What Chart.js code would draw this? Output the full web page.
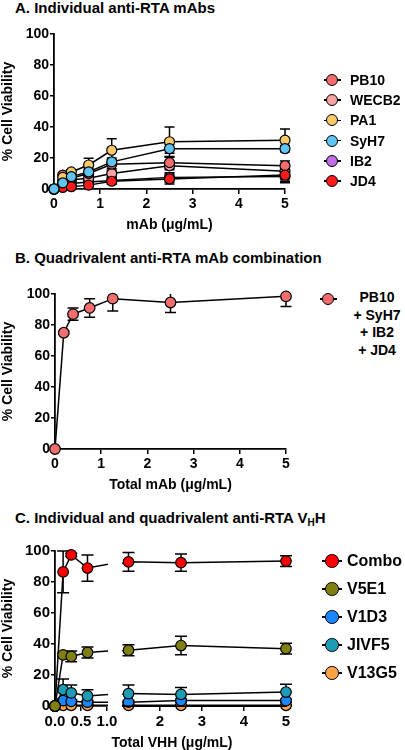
<!DOCTYPE html>
<html>
<head>
<meta charset="utf-8">
<script src="https://cdn.jsdelivr.net/npm/chart.js@4.4.1/dist/chart.umd.min.js"></script>
<style>
  body { margin: 0; width: 405px; height: 750px; overflow: hidden; background: #fff;
         font-family: Arial, "Liberation Sans", sans-serif; font-weight: bold; color: #000; position: relative; }
  .ptitle { position: absolute; left: 15px; font-size: 15px; line-height: 16px; white-space: nowrap; }
  .ptitle .sub { font-size: 10px; position: relative; top: 3px; }
  .plot { position: absolute; left: 0; }
  .row { position: absolute; white-space: nowrap; }
  .row .ln { position: absolute; height: 1.6px; background: #000; }
  .row .dot { position: absolute; border-radius: 50%; border: 1.3px solid #000; box-sizing: border-box; }
  .row .txt { position: absolute; }
  .xtitle { position: absolute; font-size: 14px; line-height: 16px; white-space: nowrap; transform: translateX(-50%); }
  .btxt { position: absolute; left: 340px; width: 74px; text-align: center; font-size: 14px; line-height: 17.7px; }
</style>
</head>
<body>
<div class="ptitle" style="top:0px">A. Individual anti-RTA mAbs</div>
<div class="plot" style="top:20px"><canvas id="chartA" width="300" height="214"></canvas></div>

<div class="ptitle" style="top:250px">B. Quadrivalent anti-RTA mAb combination</div>
<div class="plot" style="top:280px"><canvas id="chartB" width="300" height="214"></canvas></div>
<div class="btxt" style="top:289px">PB10<br>+ SyH7<br>+ IB2<br>+ JD4</div>

<div class="ptitle" style="top:510px">C. Individual and quadrivalent anti-RTA V<span class="sub">H</span>H</div>
<div class="plot" style="top:537px"><canvas id="chartC" width="300" height="213"></canvas></div>
<div class="xtitle" style="left:172px; top:734px">Total VHH (μg/mL)</div>

<div id="legendA"></div>
<div id="legendB"></div>
<div id="legendC"></div>

<script>
// ---- Panel A: individual mAbs ----
const mabDose = [0, 0.19, 0.375, 0.75, 1.25, 2.5, 5];
const mabNames = ['PB10', 'WECB2', 'PA1', 'SyH7', 'IB2', 'JD4'];
const mabColors = ['#f26d6d', '#f5a3a3', '#f9c96a', '#5ec5f2', '#c36ee6', '#ff1a1a'];
const pb10 = [0, 9, 7, 10, 16, 17, 15];
const wecb2 = [0, 5, 6, 7, 10, 15, 11.5];
const pa1 = [0, 7.5, 11, 15.5, 25, 30.5, 31.5];
const syh7 = [0, 4, 8, 11, 17.5, 26, 26];
const ib2 = [0, 2, 3.5, 4.5, 5.5, 7.5, 8];
const jd4 = [0, 1, 1.5, 2.5, 5, 6.5, 9];
const pb10Err = [0, 1, 1.5, 2, 3, 3.5, 3];
const wecb2Err = [0, 1, 1, 1.5, 2, 2.5, 2];
const pa1Err = [0, 1.5, 1.5, 4.3, 7.5, 9.5, 7.2];
const syh7Err = [0, 1, 1.5, 2, 2.5, 3, 2];
const ib2Err = [0, 1, 1, 1.5, 2, 3, 3];
const jd4Err = [0, 0.8, 1, 1, 2, 3.2, 5];
const mabValues = [pb10, wecb2, pa1, syh7, ib2, jd4];
const mabErrors = [pb10Err, wecb2Err, pa1Err, syh7Err, ib2Err, jd4Err];
const mabOrder = [3, 4, 1, 0, 5, 2];

// ---- Panel B: quadrivalent mAb combination ----
const totalMabDose = [0, 0.19, 0.39, 0.75, 1.25, 2.5, 5];
const quadMab = [0, 75, 87, 91, 97, 94.5, 98.5];
const quadMabErr = [0, 1, 4, 6, 8, 6.5, 6.5];
const quadColor = '#f26d6d';

// ---- Panel C: VHH ----
const vhhDose = [0, 0.156, 0.3125, 0.625, 1.25, 2.5, 5];
const vhhNames = ['Combo', 'V5E1', 'V1D3', 'JIVF5', 'V13G5'];
const vhhColors = ['#ff0000', '#7f7f12', '#1a86ff', '#1c9db5', '#ffa347'];
const combo = [0, 86.5, 97.5, 89, 93, 92.5, 93.5];
const v5e1 = [0, 33, 32, 34.5, 36, 39, 37];
const v1d3 = [0, 3.5, 3, 2.5, 2.5, 3.5, 3.5];
const jivf5 = [0, 10.5, 8.5, 6.5, 8, 7.5, 9];
const v13g5 = [0, 0.5, 0.5, 0.5, 0.5, 0.5, 0.5];
const comboErr = [0, 13.5, 1, 8.5, 6, 5.5, 3.5];
const v5e1Err = [0, 1, 3.5, 3.5, 3.5, 6, 3.5];
const v1d3Err = [0, 1, 1, 1, 1, 1, 1];
const jivf5Err = [0, 7, 5, 4, 5.5, 4.5, 5];
const v13g5Err = [0, 0.3, 0.3, 0.3, 0.3, 0.3, 0.3];
const vhhValues = [combo, v5e1, v1d3, jivf5, v13g5];
const vhhErrors = [comboErr, v5e1Err, v1d3Err, jivf5Err, v13g5Err];
const vhhOrder = [1, 0, 3, 2, 4];
const breakEnd = 1.0;      // first x segment ends here
const breakResume = 1.1;   // second x segment starts here

const yTicks = [0, 20, 40, 60, 80, 100];
const FONT = 'Arial, "Liberation Sans", sans-serif';

Chart.defaults.font.family = FONT;
Chart.defaults.font.weight = 'bold';
Chart.defaults.color = '#000';

// error bars drawn under the lines and symbols
const errorBarPlugin = {
  id: 'errorBars',
  beforeDatasetsDraw(chart, args, opts) {
    const ctx = chart.ctx;
    const top = chart.chartArea.top;
    const cap = opts.cap || 5;
    ctx.save();
    ctx.strokeStyle = '#000';
    ctx.lineWidth = 1.5;
    chart.data.datasets.forEach((ds, i) => {
      if (!ds.errorBars) return;
      const meta = chart.getDatasetMeta(i);
      ds.data.forEach((p, j) => {
        const e = ds.errorBars[j];
        if (!e) return;
        const px = meta.xScale.getPixelForValue(p.x);
        let hi = meta.yScale.getPixelForValue(p.y + e);
        const lo = meta.yScale.getPixelForValue(p.y - e);
        const showCap = hi >= top - 0.5;
        hi = Math.max(hi, top);
        ctx.beginPath();
        ctx.moveTo(px, hi); ctx.lineTo(px, lo);
        if (showCap) { ctx.moveTo(px - cap, hi); ctx.lineTo(px + cap, hi); }
        ctx.moveTo(px - cap, lo); ctx.lineTo(px + cap, lo);
        ctx.stroke();
      });
    });
    ctx.restore();
  }
};

// clips each half of a broken-axis series to its own x segment
const axisBreakPlugin = {
  id: 'axisBreak',
  beforeDatasetDraw(chart, args) {
    const ds = chart.data.datasets[args.index];
    const ctx = chart.ctx;
    ctx.save();
    ctx.beginPath();
    if (ds.part === 1) {
      ctx.rect(0, 0, chart.scales.x1.right + 1, chart.height);
    } else {
      const l = chart.scales.x2.getPixelForValue(breakResume);
      ctx.rect(l, 0, chart.width - l, chart.height);
    }
    ctx.clip();
  },
  afterDatasetDraw(chart) {
    chart.ctx.restore();
  },
  afterDraw(chart) {
    const ctx = chart.ctx;
    const x2 = chart.scales.x2;
    const y = Math.round(chart.chartArea.bottom) + 0.1;
    ctx.save();
    ctx.strokeStyle = '#000';
    ctx.lineWidth = 1.8;
    ctx.beginPath();
    ctx.moveTo(x2.getPixelForValue(breakResume), y);
    ctx.lineTo(x2.right + 0.9, y);
    ctx.stroke();
    ctx.restore();
  }
};

function series(xs, ys, errs, color, order, radius) {
  return {
    data: xs.map((x, i) => ({ x: x, y: ys[i] })),
    errorBars: errs,
    borderColor: '#000',
    borderWidth: 1.5,
    pointBackgroundColor: color,
    pointBorderColor: '#000',
    pointBorderWidth: 1.2,
    pointRadius: radius,
    pointHoverRadius: radius,
    order: order,
    tension: 0,
    clip: false
  };
}

function yAxis(tickSize, width) {
  return {
    type: 'linear',
    min: 0, max: 100,
    afterBuildTicks: s => { s.ticks = yTicks.map(v => ({ value: v })); },
    ticks: { color: '#000', font: { size: tickSize, weight: 'bold' }, padding: 1 },
    grid: { drawOnChartArea: false, color: '#000', lineWidth: 1.5, tickLength: 4 },
    border: { color: '#000', width: 1.8 },
    title: { display: true, text: '% Cell Viability', color: '#000', font: { size: 14, weight: 'bold' }, padding: 0 },
    afterFit: s => { s.width = width; }
  };
}

function xAxis(title, height) {
  return {
    type: 'linear',
    min: 0, max: 5,
    afterBuildTicks: s => { s.ticks = [0, 1, 2, 3, 4, 5].map(v => ({ value: v })); },
    ticks: { color: '#000', font: { size: 14, weight: 'bold' }, padding: 2, maxRotation: 0, minRotation: 0, autoSkip: false },
    grid: { drawOnChartArea: false, color: '#000', lineWidth: 1.5, tickLength: 5 },
    border: { color: '#000', width: 1.8 },
    title: { display: true, text: title, color: '#000', font: { size: 14, weight: 'bold' }, padding: 0 },
    afterFit: s => { s.height = height; }
  };
}

const baseOptions = {
  responsive: false,
  animation: false,
  events: [],
  plugins: { legend: { display: false }, tooltip: { enabled: false } }
};

// Panel A
new Chart(document.getElementById('chartA'), {
  type: 'line',
  data: {
    datasets: mabNames.map((n, i) =>
      Object.assign(series(mabDose, mabValues[i], mabErrors[i], mabColors[i], mabOrder[i], 5), { label: n }))
  },
  options: Object.assign({}, baseOptions, {
    layout: { padding: { left: 0, right: 15, top: 14, bottom: 0 } },
    scales: { x: xAxis('mAb (μg/mL)', 45), y: yAxis(14, 54) },
    plugins: Object.assign({}, baseOptions.plugins, { errorBars: { cap: 5 } })
  }),
  plugins: [errorBarPlugin]
});

// Panel B
new Chart(document.getElementById('chartB'), {
  type: 'line',
  data: {
    datasets: [Object.assign(series(totalMabDose, quadMab, quadMabErr, quadColor, 0, 5.3),
      { label: 'PB10 + SyH7 + IB2 + JD4' })]
  },
  options: Object.assign({}, baseOptions, {
    layout: { padding: { left: 0, right: 14, top: 14, bottom: 0 } },
    scales: { x: xAxis('Total mAb (μg/mL)', 45), y: yAxis(14, 55) },
    plugins: Object.assign({}, baseOptions.plugins, { errorBars: { cap: 5.5 } })
  }),
  plugins: [errorBarPlugin]
});

// Panel C: two stacked x scales give the broken axis
const cDatasets = [];
vhhNames.forEach((n, i) => {
  const first = series(vhhDose.slice(0, 5), vhhValues[i].slice(0, 5),
    vhhErrors[i].slice(0, 4).concat([0]), vhhColors[i], vhhOrder[i], [5.3, 5.3, 5.3, 5.3, 0]);
  first.xAxisID = 'x1'; first.part = 1; first.label = n;
  const second = series(vhhDose.slice(3), vhhValues[i].slice(3),
    [0].concat(vhhErrors[i].slice(4)), vhhColors[i], vhhOrder[i], [0, 5.3, 5.3, 5.3]);
  second.xAxisID = 'x2'; second.part = 2; second.label = n;
  cDatasets.push(first, second);
});

const x1 = xAxis('', 44);
x1.title = { display: false };
x1.max = breakEnd;
x1.stack = 'xb'; x1.stackWeight = 52;
x1.afterBuildTicks = s => { s.ticks = [0, 0.5, 1].map(v => ({ value: v })); };
x1.ticks = Object.assign({}, x1.ticks, { font: { size: 15, weight: 'bold' }, callback: v => v.toFixed(1) });

const x2 = xAxis('', 44);
x2.title = { display: false };
x2.min = 0.738;
x2.stack = 'xb'; x2.stackWeight = 179;
x2.afterBuildTicks = s => { s.ticks = [2, 3, 4, 5].map(v => ({ value: v })); };
x2.ticks = Object.assign({}, x2.ticks, { font: { size: 15, weight: 'bold' }, callback: v => String(v) });
x2.border = { display: false };

new Chart(document.getElementById('chartC'), {
  type: 'line',
  data: { datasets: cDatasets },
  options: Object.assign({}, baseOptions, {
    layout: { padding: { left: 0, right: 14, top: 14, bottom: 0 } },
    scales: { x1: x1, x2: x2, y: yAxis(15, 55) },
    plugins: Object.assign({}, baseOptions.plugins, { errorBars: { cap: 6 } })
  }),
  plugins: [errorBarPlugin, axisBreakPlugin]
});

// legends (line through a filled circle, as in the figure)
function legendRow(parent, cx, cy, lineW, dotD, textLeft, fontSize, color, text) {
  const row = document.createElement('div');
  row.className = 'row';
  row.style.left = '0px';
  row.style.top = (cy - 12) + 'px';
  row.style.height = '24px';
  row.style.width = '405px';
  const ln = document.createElement('span');
  ln.className = 'ln';
  ln.style.left = (cx - lineW / 2) + 'px';
  ln.style.width = lineW + 'px';
  ln.style.top = '11.2px';
  const dot = document.createElement('span');
  dot.className = 'dot';
  dot.style.left = (cx - dotD / 2) + 'px';
  dot.style.top = (12 - dotD / 2) + 'px';
  dot.style.width = dotD + 'px';
  dot.style.height = dotD + 'px';
  dot.style.background = color;
  row.appendChild(ln);
  row.appendChild(dot);
  if (text) {
    const t = document.createElement('span');
    t.className = 'txt';
    t.style.left = textLeft + 'px';
    t.style.top = '0px';
    t.style.fontSize = fontSize + 'px';
    t.style.lineHeight = '24px';
    t.textContent = text;
    row.appendChild(t);
  }
  parent.appendChild(row);
}

const legendA = document.getElementById('legendA');
mabNames.forEach((n, i) => legendRow(legendA, 332, 80 + i * 20.2, 17, 12, 350, 14, mabColors[i], n));
legendRow(document.getElementById('legendB'), 328, 299, 17, 12.5, 0, 14, quadColor, '');
const legendC = document.getElementById('legendC');
vhhNames.forEach((n, i) => legendRow(legendC, 332, 561 + i * 28, 20, 13.5, 347, 16, vhhColors[i], n));
</script>
</body>
</html>
